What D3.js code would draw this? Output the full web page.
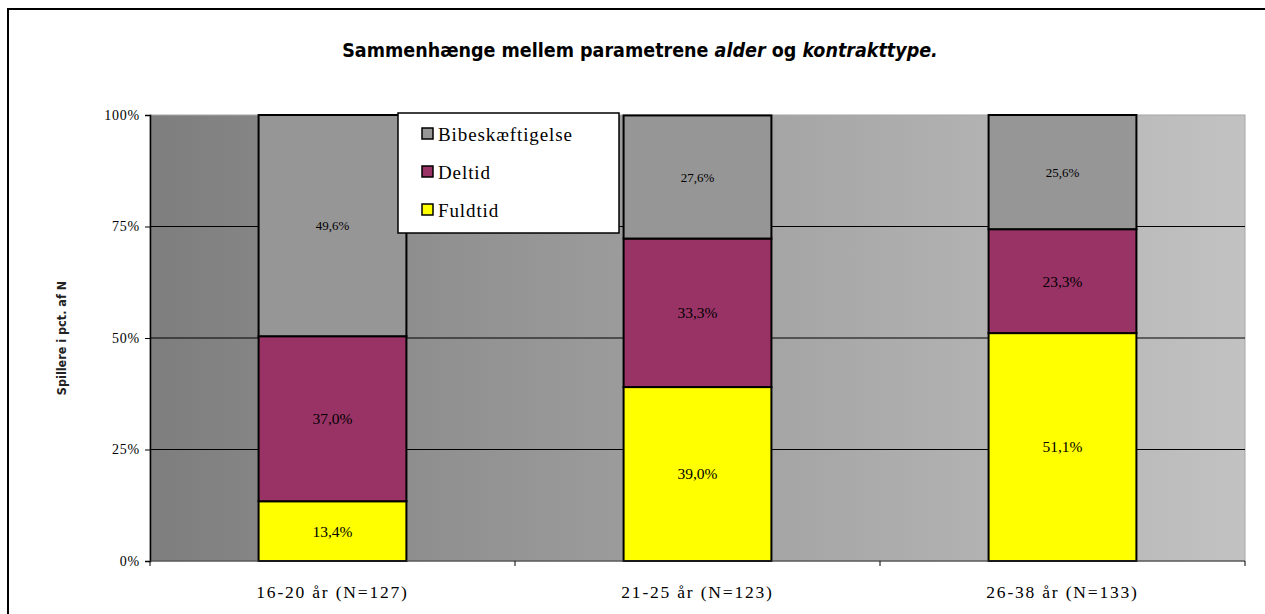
<!DOCTYPE html>
<head>
	<meta charset="UTF-8">
	<title>Alder og kontrakttype</title>
	<script src="https://d3js.org/d3.v7.min.js"></script>
	<style>
		body { margin: 0; background: #fff; }
		.chart { display: block; }
		.serif { font-family: "Liberation Serif", "DejaVu Serif", serif; }
	</style>
</head>
<body>
	<svg class="chart" width=1265 height=614></svg>
	<script>
		// data
		var categories = ["16-20 år (N=127)", "21-25 år (N=123)", "26-38 år (N=133)"];
		var seriesNames = ["Fuldtid", "Deltid", "Bibeskæftigelse"];
		var fuldtid = [13.4, 39.0, 51.1];
		var deltid = [37.0, 33.3, 23.3];
		var bibeskaeftigelse = [49.6, 27.6, 25.6];
		var yTicks = [0, 25, 50, 75, 100];
		var yTickLabels = ["0%", "25%", "50%", "75%", "100%"];

		var chart = d3.select(".chart"),
			margin = {top: 115, right: 20, bottom: 53, left: 150},
			width = +chart.attr("width") - margin.left - margin.right,
			height = +chart.attr("height") - margin.top - margin.bottom;

		var rows = categories.map(function(c, i) {
			return {cat: c, "Fuldtid": fuldtid[i], "Deltid": deltid[i], "Bibeskæftigelse": bibeskaeftigelse[i]};
		});

		var x = d3.scaleBand().domain(categories).range([0, width]).paddingInner(0.595).paddingOuter(0.2975);
		var xb = d3.scaleBand().domain(categories).range([0, width]);
		var y = d3.scaleLinear().domain([0, 100]).range([height, 0]);
		var z = d3.scaleOrdinal().domain(seriesNames).range(["#ffff00", "#993366", "#969696"]);
		var fmt = function(v) { return d3.format(".1f")(v).replace(".", ",") + "%"; };

		// outer frame
		chart.append("rect")
			.attr("x", 8).attr("y", 9).attr("width", 1280).attr("height", 640)
			.attr("fill", "none").attr("stroke", "#000").attr("stroke-width", 2);

		// title
		var title = chart.append("text")
			.attr("x", 640).attr("y", 57)
			.attr("text-anchor", "middle")
			.attr("font-family", "'Liberation Sans Narrow', 'DejaVu Sans Condensed', sans-serif")
			.attr("font-weight", "bold")
			.attr("font-size", 19.5)
			.attr("fill", "#000");
		title.append("tspan").text("Sammenhænge mellem parametrene ");
		title.append("tspan").attr("font-style", "italic").text("alder");
		title.append("tspan").text(" og ");
		title.append("tspan").attr("font-style", "italic").text("kontrakttype.");

		var g = chart.append("g").attr("transform", "translate(" + margin.left + "," + margin.top + ")");

		// plot background gradient
		var grad = chart.append("defs").append("linearGradient")
			.attr("id", "bg").attr("x1", "0%").attr("x2", "100%").attr("y1", "0%").attr("y2", "0%");
		grad.append("stop").attr("offset", "0%").attr("stop-color", "#7e7e7e");
		grad.append("stop").attr("offset", "100%").attr("stop-color", "#c2c2c2");

		g.append("rect")
			.attr("width", width).attr("height", height)
			.attr("fill", "url(#bg)")
			.attr("stroke", "#a6a6a6");

		// gridlines
		g.append("g")
			.selectAll("line")
			.data(yTicks.slice(1, 4))
			.enter().append("line")
			.attr("x1", 0).attr("x2", width)
			.attr("y1", function(d) { return y(d); }).attr("y2", function(d) { return y(d); })
			.attr("stroke", "#000").attr("stroke-width", 1);

		// stacked bars
		var stack = d3.stack().keys(seriesNames)(rows);

		var layer = g.append("g")
			.selectAll("g")
			.data(stack)
			.enter().append("g")
			.attr("fill", function(d) { return z(d.key); });

		layer.selectAll("rect")
			.data(function(d) { return d; })
			.enter().append("rect")
			.attr("x", function(d) { return x(d.data.cat); })
			.attr("y", function(d) { return y(d[1]); })
			.attr("width", x.bandwidth())
			.attr("height", function(d) { return y(d[0]) - y(d[1]); })
			.attr("stroke", "#000").attr("stroke-width", 2);

		layer.selectAll("text")
			.data(function(d) { return d.map(function(v) { return {v: v, key: d.key}; }); })
			.enter().append("text")
			.attr("class", "serif")
			.attr("x", function(d) { return x(d.v.data.cat) + x.bandwidth() / 2; })
			.attr("y", function(d) { return (y(d.v[0]) + y(d.v[1])) / 2; })
			.attr("dy", "0.35em")
			.attr("text-anchor", "middle")
			.attr("font-size", function(d) { return d.key === "Bibeskæftigelse" ? 13 : 15.5; })
			.attr("fill", "#000")
			.text(function(d) { return fmt(d.v.data[d.key]); });

		// y axis
		var yAxis = g.append("g")
			.call(d3.axisLeft(y).tickValues(yTicks).tickSize(5).tickPadding(5)
				.tickFormat(function(d, i) { return yTickLabels[i]; }));
		yAxis.select(".domain").attr("stroke", "#000").attr("stroke-width", 1.5);
		yAxis.selectAll("text").attr("class", "serif").attr("font-size", 14).attr("letter-spacing", 0.8).attr("fill", "#000");

		// x axis
		g.append("line")
			.attr("x1", 0).attr("x2", width).attr("y1", height).attr("y2", height)
			.attr("stroke", "#333").attr("stroke-width", 1);
		g.append("g")
			.selectAll("line")
			.data([0].concat(categories.map(function(c) { return xb(c) + xb.bandwidth(); })))
			.enter().append("line")
			.attr("x1", function(d) { return d; }).attr("x2", function(d) { return d; })
			.attr("y1", height).attr("y2", height + 5)
			.attr("stroke", "#000");
		g.append("g")
			.selectAll("text")
			.data(categories)
			.enter().append("text")
			.attr("class", "serif")
			.attr("x", function(d) { return x(d) + x.bandwidth() / 2; })
			.attr("y", height + 37)
			.attr("text-anchor", "middle")
			.attr("font-size", 17.5)
			.attr("letter-spacing", 1.8)
			.attr("fill", "#000")
			.text(function(d) { return d; });

		// y axis title
		chart.append("text")
			.attr("transform", "translate(66," + (margin.top + height / 2) + ") rotate(-90)")
			.attr("text-anchor", "middle")
			.attr("font-family", "'Liberation Sans Narrow', 'DejaVu Sans Condensed', sans-serif")
			.attr("font-size", 12.5)
			.attr("font-weight", "bold")
			.attr("fill", "#222")
			.text("Spillere i pct. af N");

		// legend
		var legend = chart.append("g").attr("transform", "translate(398,113)");
		legend.append("rect")
			.attr("width", 221).attr("height", 120)
			.attr("fill", "#fff").attr("stroke", "#000").attr("stroke-width", 1.5);
		var items = legend.selectAll("g.item")
			.data(seriesNames.slice().reverse())
			.enter().append("g")
			.attr("class", "item")
			.attr("transform", function(d, i) { return "translate(24," + (15 + i * 38) + ")"; });
		items.append("rect")
			.attr("width", 11).attr("height", 11)
			.attr("fill", z).attr("stroke", "#000").attr("stroke-width", 1.5);
		items.append("text")
			.attr("class", "serif")
			.attr("x", 16).attr("y", 6)
			.attr("dy", "0.35em")
			.attr("font-size", 19)
			.attr("letter-spacing", 0.9)
			.attr("fill", "#000")
			.text(function(d) { return d; });
	</script>
</body>
</html>
